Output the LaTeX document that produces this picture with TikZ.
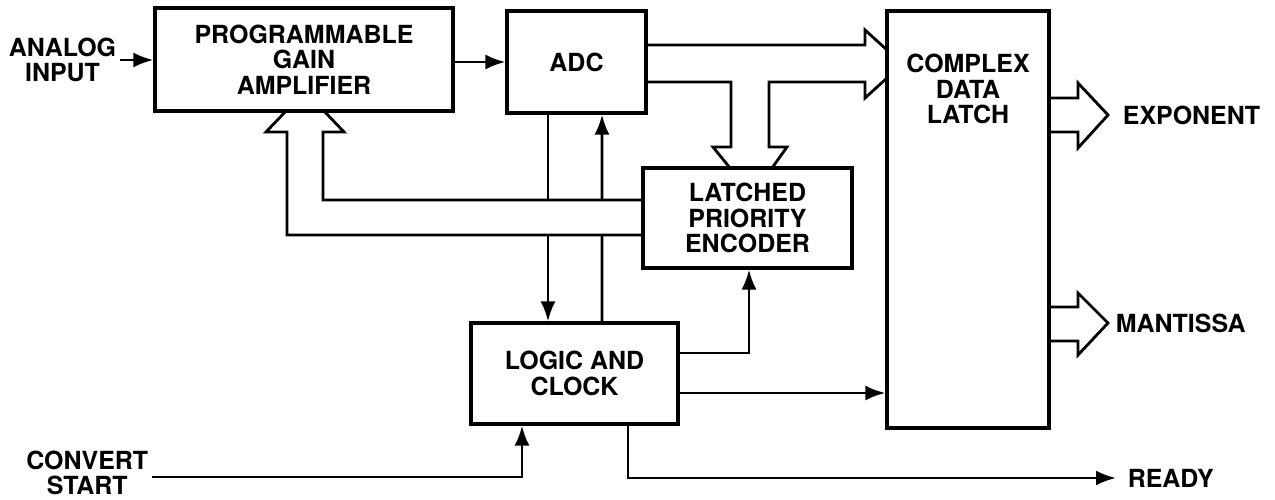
\documentclass[tikz,border=0pt]{standalone}
\usepackage{fontspec}
\setmainfont{TeX Gyre Heros}
\usetikzlibrary{positioning, arrows.meta, calc}

\begin{document}
\begin{tikzpicture}[
        x=0.02cm, y=-0.02cm,
        bloque/.style={
            rectangle,
            draw,
            line width=1.8pt,
            align=center,
            inner sep=0pt,
            font=\bfseries\fontsize{14.2}{14.6}\selectfont
        },
        texto/.style={
            align=center,
            inner sep=2pt,
            font=\bfseries\fontsize{14.2}{14.6}\selectfont
        },
        flecha/.style={
            -{Latex[length=4mm,width=3mm]},
            line width=1.6pt
        },
        linea/.style={line width=1.6pt},
        bus/.style={line width=1.6pt, line join=miter}
    ]
    \useasboundingbox (0,0) rectangle (1275,500);

        % bloques
        \node[bloque, minimum width=5.96cm, minimum height=2.06cm] (pga) at (304,59.5) {PROGRAMMABLE\\GAIN\\AMPLIFIER};
        \node[bloque, minimum width=2.78cm, minimum height=2.04cm] (adc) at (576.5,62) {ADC};
        \node[bloque, minimum width=4.18cm, minimum height=2cm] (lpe) at (747.5,218) {LATCHED\\PRIORITY\\ENCODER};
        \node[bloque, minimum width=3.24cm, minimum height=8.34cm] (cdl) at (968,219.5) {};
        \node[texto] (cdltxt) at (968,89) {COMPLEX\\DATA\\LATCH};
        \node[bloque, minimum width=4.14cm, minimum height=2.02cm] (logic) at (574.5,373.5) {LOGIC AND\\CLOCK};

        % entradas y salidas
        \node[texto, anchor=east] (ain) at (120,60) {ANALOG\\INPUT};
        \node[texto, anchor=east] (cvs) at (152,473) {CONVERT\\START};
        \node[texto, anchor=west] (exp) at (1119,115) {EXPONENT};
        \node[texto, anchor=west] (man) at (1112,323) {MANTISSA};
        \node[texto, anchor=west, inner xsep=6.5pt] (rdy) at (1116,478) {READY};

        \draw[flecha] (ain.east) -- (ain.east -| pga.west);
        \draw[flecha] (adc.west -| pga.east) -- (adc.west);

        % lineas de control
        \draw[linea] ($(adc.south)+(-28.5,0)$) -- (548,200);
        \draw[flecha] (548,235) -- ($(logic.north)+(-26.5,0)$);
        \draw[linea] ($(logic.north)+(27.5,0)$) -- (602,235);
        \draw[flecha] (602,200) -- ($(adc.south)+(25.5,0)$);
        \draw[flecha] ($(logic.east)+(0,-20.5)$) -| ($(lpe.south)+(1.5,0)$);
        \coordinate (lc) at ($(logic.east)+(0,19.5)$);
        \draw[flecha] (lc) -- (lc -| cdl.west);
        \draw[flecha] ($(logic.south)+(53.5,0)$) |- (rdy.west);
        \draw[flecha] (cvs.east |- 0,477) -| ($(logic.south)+(-52.5,0)$);

        % buses
        \draw[bus] ($(lpe.west)+(0,-18)$) -- (323,200) -- (323,132) -- (344,132) -- (324,111);
        \draw[bus] ($(lpe.west)+(0,17)$) -- (287,235) -- (287,132) -- (266,132) -- (286,111);
        \draw[bus] ($(adc.east)+(0,-17)$) -- (865,45) -- (865,30) -- (887,50);
        \draw[bus] ($(adc.east)+(0,20)$) -- (731,82) -- (731,147) -- (713,147) -- (730,168);
        \draw[bus] (772,168) -- (787,147) -- (769,147) -- (769,82) -- (865,82) -- (865,98) -- (887,78);
        \draw[bus] ($(cdl.east)+(0,-121.5)$) -- (1078,98) -- (1078,83) -- (1108,115) -- (1078,148) -- (1078,132) -- (1049,132);
        \draw[bus] ($(cdl.east)+(0,87.5)$) -- (1078,307) -- (1078,293) -- (1108,323) -- (1078,355) -- (1078,341) -- (1049,341);

    \end{tikzpicture}
\end{document}
